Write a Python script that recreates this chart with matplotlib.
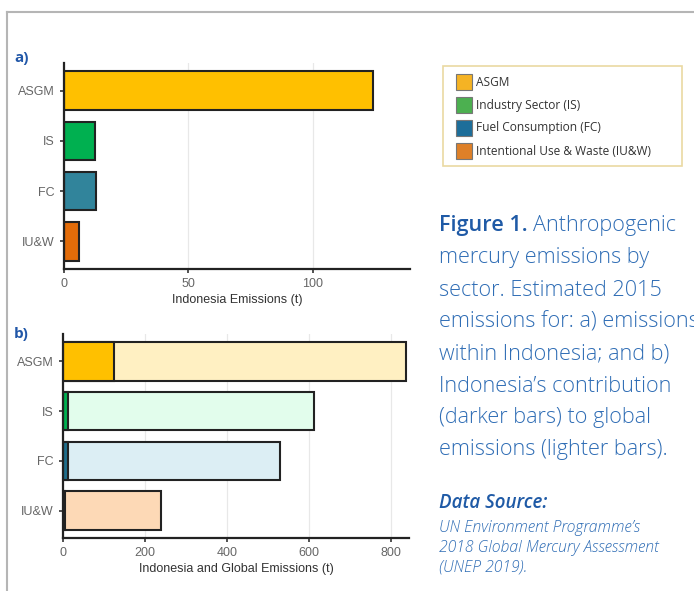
import matplotlib
matplotlib.use('Agg')
import matplotlib.pyplot as plt
from matplotlib.lines import Line2D
from matplotlib.patches import Rectangle

# data
sectors = ['ASGM', 'IS', 'FC', 'IU&W']
indonesia = [124, 12.5, 13, 6]
global_em = [838, 614, 531, 240]
dark_colors = ['#FFC000', '#00B050', '#31849B', '#E36C09']
light_colors = ['#FFF0C2', '#E2FDEC', '#DCEEF4', '#FDD9B6']
dark_b = ['#FFC000', '#00B050', '#1F6E8C', '#3A1A05']
legend_labels = ['ASGM', 'Industry Sector (IS)', 'Fuel Consumption (FC)',
                 'Intentional Use & Waste (IU&W)']
legend_colors = ['#F5B324', '#4CB050', '#1D6E9A', '#DE8028']

W, H = 694, 591
fig = plt.figure(figsize=(W / 100, H / 100), dpi=100)

def ax_rect(x0, y0, x1, y1):
    return [x0 / W, 1 - y1 / H, (x1 - x0) / W, (y1 - y0) / H]

def style(ax, xlabel):
    for s in ['top', 'right']:
        ax.spines[s].set_visible(False)
    for s in ['left', 'bottom']:
        ax.spines[s].set_linewidth(1.6)
        ax.spines[s].set_color('#222222')
    ax.tick_params(axis='both', length=3, width=1.2, color='#333333',
                   labelcolor='#666666', labelsize=9)
    ax.grid(axis='x', color='#e8e8e8', linewidth=0.9)
    ax.set_axisbelow(True)
    ax.set_xlabel(xlabel, fontsize=9, color='#333333', labelpad=3)
    ax.invert_yaxis()

plt.rcParams['font.family'] = ['Liberation Sans', 'DejaVu Sans']

ypos = list(range(len(sectors)))
bh = 0.77

# panel a
ax1 = fig.add_axes(ax_rect(64, 63, 410, 269))
ax1.barh(ypos, indonesia, height=bh, color=dark_colors, edgecolor='#222222', linewidth=1.5)
ax1.set_xlim(0, 139)
ax1.set_ylim(-0.55, 3.55)
ax1.set_xticks([0, 50, 100])
ax1.set_yticks(ypos)
ax1.set_yticklabels(sectors)
style(ax1, 'Indonesia Emissions (t)')

# panel b
ax2 = fig.add_axes(ax_rect(63, 334, 409, 538))
ax2.barh(ypos, global_em, height=bh, color=light_colors, edgecolor='#222222', linewidth=1.5)
ax2.barh(ypos, indonesia, height=bh, color=dark_b, edgecolor='#222222', linewidth=1.5)
ax2.set_xlim(0, 845)
ax2.set_ylim(-0.55, 3.55)
ax2.set_xticks([0, 200, 400, 600, 800])
ax2.set_yticks(ypos)
ax2.set_yticklabels(sectors)
style(ax2, 'Indonesia and Global Emissions (t)')

blue = '#2F6DB5'
sans = ['Open Sans', 'DejaVu Sans']
fig.text(14 / W, 1 - 62 / H, 'a)', fontsize=11, fontweight='bold', color='#2157A8', family=sans)
fig.text(14 / W, 1 - 338 / H, 'b)', fontsize=11, fontweight='bold', color='#2157A8', family=sans)

# frame lines
fig.add_artist(Line2D([7 / W, 1], [1 - 12 / H, 1 - 12 / H], color='#b5b5b5', lw=1.5))
fig.add_artist(Line2D([7 / W, 7 / W], [0, 1 - 12 / H], color='#b5b5b5', lw=1.5))

# legend box
fig.add_artist(Rectangle((443 / W, 1 - 166 / H), (682 - 443) / W, (166 - 66) / H,
                         facecolor='white', edgecolor='#EAD9A2', lw=1.2))
ly = [82, 105, 128, 151]
for lab, c, y in zip(legend_labels, legend_colors, ly):
    fig.add_artist(Rectangle((456 / W, 1 - (y + 8) / H), 16 / W, 16 / H,
                             facecolor=c, edgecolor='#777777', lw=0.8))
    fig.text(476 / W, 1 - y / H, lab, fontsize=8.6, color='#333333', va='center', family=sans)

# caption
cap_lines = ['mercury emissions by', 'sector. Estimated 2015',
             'emissions for: a) emissions', 'within Indonesia; and b)',
             'Indonesia\u2019s contribution', '(darker bars) to global',
             'emissions (lighter bars).']
cx = 439 / W
fs = 15.6
t = fig.text(cx, 1 - 226 / H, 'Figure 1.', fontsize=fs, color='#1F5AA6',
             fontweight='semibold', va='center', family=sans)
fig.canvas.draw()
bb = t.get_window_extent()
fig.text(bb.x1 / W + 5 / W, 1 - 226 / H, 'Anthropogenic', fontsize=fs, color=blue,
         fontweight='light', va='center', family=sans)
for i, line in enumerate(cap_lines):
    fig.text(cx, 1 - (258 + 32 * i) / H, line, fontsize=fs, color=blue,
             fontweight='light', va='center', family=sans)

fig.text(cx, 1 - 503 / H, 'Data Source:', fontsize=13.5, color='#1F5AA6', style='italic',
         fontweight='semibold', va='center', family=sans)
src = ['UN Environment Programme\u2019s', '2018 Global Mercury Assessment', '(UNEP 2019).']
for i, line in enumerate(src):
    fig.text(cx, 1 - (528 + 19.5 * i) / H, line, fontsize=11.3, color=blue, style='italic',
             fontweight='light', va='center', family=sans)

fig.savefig('out.png', dpi=100)
